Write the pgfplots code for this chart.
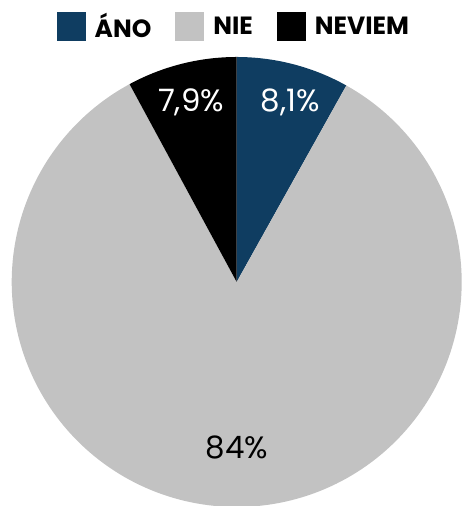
\documentclass[border=0pt]{standalone}
\usepackage{pgfplots}
\pgfplotsset{compat=1.18}
\usepackage{pgfplotstable}
\usepgfplotslibrary{polar}
\usepackage{fontspec}
\setmainfont{Poppins}
\definecolor{anoblue}{HTML}{0F3D61}
\definecolor{niegray}{HTML}{C2C2C2}
\pgfplotstableread{
label value
ANO 8.1
NIE 84
NEVIEM 7.9
}\piedata
\pgfplotstablegetelem{0}{value}\of\piedata \let\va\pgfplotsretval
\pgfplotstablegetelem{1}{value}\of\piedata \let\vb\pgfplotsretval
\pgfplotstablegetelem{2}{value}\of\piedata \let\vc\pgfplotsretval
\pgfmathsetmacro\aStart{90}
\pgfmathsetmacro\aA{90-3.6*\va}
\pgfmathsetmacro\aB{\aA-3.6*\vb}
\pgfmathsetmacro\aC{\aB-3.6*\vc}
\begin{document}
\begin{tikzpicture}
\useasboundingbox (0,0) rectangle (464bp,506bp);
\begin{axis}[
  at={(0,0)}, anchor=south west,
  x=225bp, y=225bp,
  xmin=-1.052, xmax=1.0102, ymin=-0.9956, ymax=1.2533,
  hide axis,
  area legend,
  legend image code/.code={\fill[#1] (0bp,-14.5bp) rectangle (29bp,14.5bp);},
  legend style={at={(axis description cs:0.504,0.9476)}, anchor=center,
    draw=none, fill=none, legend columns=3,
    font=\fontsize{25}{25}\selectfont\bfseries,
    /tikz/every odd column/.append style={column sep=7bp},
    /tikz/every even column/.append style={column sep=22bp},
    inner sep=0pt},
]
\addplot[fill=anoblue, draw=none, data cs=polar, domain=\aA:\aStart, samples=40] {1} -- (axis cs:0,0) -- cycle;
\addplot[fill=niegray, draw=none, data cs=polar, domain=\aB:\aA, samples=200] {1} -- (axis cs:0,0) -- cycle;
\addplot[fill=black, draw=none, data cs=polar, domain=\aC:\aB, samples=40] {1} -- (axis cs:0,0) -- cycle;
\legend{ÁNO, NIE, NEVIEM}
\node[white, font=\fontsize{31}{31}\selectfont] at (axis cs:-0.203,0.8) {7,9\%};
\node[white, font=\fontsize{31}{31}\selectfont] at (axis cs:0.237,0.8) {8,1\%};
\node[black, font=\fontsize{31}{31}\selectfont] at (axis cs:0,-0.7356) {84\%};
\end{axis}
\end{tikzpicture}
\end{document}
